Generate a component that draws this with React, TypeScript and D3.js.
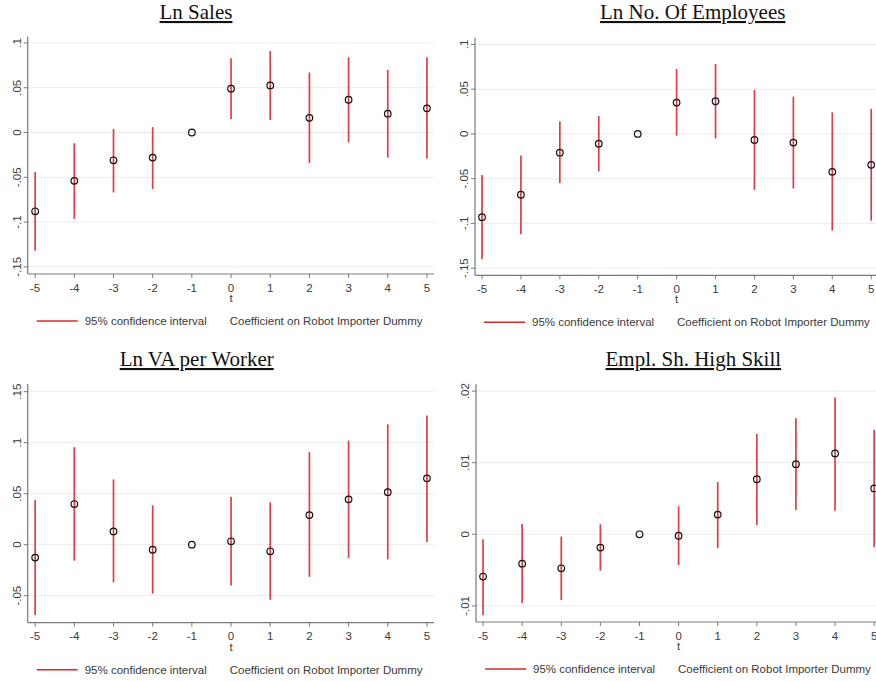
import React from 'react';
import * as d3 from 'd3';

// event time
const periods = [-5, -4, -3, -2, -1, 0, 1, 2, 3, 4, 5];

// Ln Sales
const salesCoef = [-0.088, -0.054, -0.031, -0.028, 0, 0.049, 0.0526, 0.0164, 0.0366, 0.021, 0.027];
const salesLo = [-0.132, -0.0966, -0.067, -0.063, 0, 0.015, 0.014, -0.034, -0.011, -0.028, -0.029];
const salesHi = [-0.044, -0.012, 0.004, 0.006, 0, 0.083, 0.091, 0.067, 0.084, 0.07, 0.084];
const salesTicks = [-0.15, -0.1, -0.05, 0, 0.05, 0.1];
const salesTickLabels = ['-.15', '-.1', '-.05', '0', '.05', '.1'];

// Ln No. Of Employees
const empCoef = [-0.093, -0.068, -0.021, -0.011, 0, 0.035, 0.0365, -0.0067, -0.0097, -0.0424, -0.0346];
const empLo = [-0.14, -0.112, -0.055, -0.042, 0, -0.002, -0.005, -0.0625, -0.061, -0.108, -0.097];
const empHi = [-0.046, -0.024, 0.014, 0.02, 0, 0.0725, 0.078, 0.049, 0.0417, 0.024, 0.028];
const empTicks = [-0.15, -0.1, -0.05, 0, 0.05, 0.1];
const empTickLabels = ['-.15', '-.1', '-.05', '0', '.05', '.1'];

// Ln VA per Worker
const vaCoef = [-0.0127, 0.0398, 0.013, -0.005, 0, 0.0033, -0.0065, 0.029, 0.0444, 0.0515, 0.065];
const vaLo = [-0.069, -0.0157, -0.037, -0.048, 0, -0.04, -0.054, -0.0316, -0.013, -0.0144, 0.0026];
const vaHi = [0.0437, 0.0956, 0.064, 0.0385, 0, 0.047, 0.0414, 0.0907, 0.102, 0.118, 0.1265];
const vaTicks = [-0.05, 0, 0.05, 0.1, 0.15];
const vaTickLabels = ['-.05', '0', '.05', '.1', '.15'];

// Empl. Sh. High Skill
const skillCoef = [-0.0059, -0.0041, -0.00475, -0.00186, 0, -0.0002, 0.00275, 0.0077, 0.0098, 0.0113, 0.0064];
const skillLo = [-0.0113, -0.0096, -0.0092, -0.0051, 0, -0.0043, -0.0019, 0.0013, 0.0034, 0.0033, -0.0018];
const skillHi = [-0.0007, 0.00144, -0.0003, 0.0014, 0, 0.0039, 0.0073, 0.014, 0.0162, 0.0191, 0.0146];
const skillTicks = [-0.01, 0, 0.01, 0.02];
const skillTickLabels = ['-.01', '0', '.01', '.02'];

const CI_RED = '#da3f49';
const AXIS = '#7a7a7a';
const GRID = '#ececec';
const TXT = '#3a3a3a';
const SANS = 'Liberation Sans, Arial, sans-serif';

type PanelProps = {
  title: string;
  titleX: number;
  titleY: number;
  coef: number[];
  lo: number[];
  hi: number[];
  ticks: number[];
  tickLabels: string[];
  x0: number;
  x1: number;
  xDom: [number, number];
  y0: number;
  y1: number;
  yDom: [number, number];
};

function Panel(p: PanelProps) {
  const x = d3.scaleLinear().domain(p.xDom).range([p.x0, p.x1]);
  const y = d3.scaleLinear().domain(p.yDom).range([p.y0, p.y1]);
  const [left] = x.range();
  const right = Math.min(x.range()[1], 876);
  const bottom = p.y0;
  const top = p.y1;

  return (
    <g>
      <text
        x={p.titleX}
        y={p.titleY}
        textAnchor="middle"
        fontFamily="Liberation Serif, Times New Roman, serif"
        fontSize={21}
        fill="#111"
        style={{ textDecoration: 'underline' }}
      >
        {p.title}
      </text>

      {/* grid */}
      {p.ticks.map((t) => (
        <line key={'g' + t} x1={left} x2={right} y1={y(t)} y2={y(t)} stroke={GRID} strokeWidth={1} />
      ))}

      {/* axes */}
      <line x1={left} x2={left} y1={top} y2={bottom} stroke={AXIS} strokeWidth={1.2} />
      <line x1={left} x2={right} y1={bottom} y2={bottom} stroke={AXIS} strokeWidth={1.2} />

      {p.ticks.map((t, i) => (
        <g key={'yt' + t}>
          <line x1={left - 4} x2={left} y1={y(t)} y2={y(t)} stroke={AXIS} />
          <text
            transform={`translate(${left - 7},${y(t)}) rotate(-90)`}
            textAnchor="middle"
            fontFamily={SANS}
            fontSize={11.5}
            fill={TXT}
          >
            {p.tickLabels[i]}
          </text>
        </g>
      ))}

      {periods.map((t) => (
        <g key={'xt' + t}>
          <line x1={x(t)} x2={x(t)} y1={bottom} y2={bottom + 4} stroke={AXIS} />
          <text x={x(t)} y={bottom + 17.5} textAnchor="middle" fontFamily={SANS} fontSize={11.5} fill={TXT}>
            {t}
          </text>
        </g>
      ))}
      <text x={x(0)} y={bottom + 28} textAnchor="middle" fontFamily={SANS} fontSize={11.5} fill={TXT}>
        t
      </text>

      {/* confidence intervals */}
      {periods.map((t, i) =>
        p.hi[i] !== p.lo[i] ? (
          <line key={'ci' + t} x1={x(t)} x2={x(t)} y1={y(p.lo[i])} y2={y(p.hi[i])} stroke={CI_RED} strokeWidth={1.7} />
        ) : null
      )}

      {/* point estimates */}
      {periods.map((t, i) => (
        <circle key={'pt' + t} cx={x(t)} cy={y(p.coef[i])} r={3.3} fill="none" stroke="#111" strokeWidth={1.2} />
      ))}

      {/* legend */}
      <line x1={left + 9} x2={left + 50} y1={bottom + 47} y2={bottom + 47} stroke="#d42a2a" strokeWidth={1.5} />
      <text x={left + 57} y={bottom + 51} fontFamily={SANS} fontSize={11.5} fill={TXT}>
        95% confidence interval
      </text>
      <text x={left + 202} y={bottom + 51} fontFamily={SANS} fontSize={11.5} fill={TXT}>
        Coefficient on Robot Importer Dummy
      </text>
    </g>
  );
}

export default function App() {
  return (
    <svg
      width={876}
      height={681}
      style={{ position: 'absolute', left: 0, top: 0, background: '#fff' }}
    >
      <rect width={876} height={681} fill="#fff" />
      <Panel
        title="Ln Sales"
        titleX={196}
        titleY={19}
        coef={salesCoef}
        lo={salesLo}
        hi={salesHi}
        ticks={salesTicks}
        tickLabels={salesTickLabels}
        x0={27.7}
        x1={434}
        xDom={[-5.19, 5.18]}
        y0={274}
        y1={36.7}
        yDom={[-0.158, 0.107]}
      />
      <Panel
        title="Ln No. Of Employees"
        titleX={692.7}
        titleY={19}
        coef={empCoef}
        lo={empLo}
        hi={empHi}
        ticks={empTicks}
        tickLabels={empTickLabels}
        x0={475}
        x1={879}
        xDom={[-5.18, 5.2]}
        y0={275.3}
        y1={37.7}
        yDom={[-0.158, 0.1075]}
      />
      <Panel
        title="Ln VA per Worker"
        titleX={196.7}
        titleY={366}
        coef={vaCoef}
        lo={vaLo}
        hi={vaHi}
        ticks={vaTicks}
        tickLabels={vaTickLabels}
        x0={27.7}
        x1={434}
        xDom={[-5.19, 5.18]}
        y0={622.7}
        y1={384}
        yDom={[-0.0765, 0.1575]}
      />
      <Panel
        title="Empl. Sh. High Skill"
        titleX={693.3}
        titleY={366}
        coef={skillCoef}
        lo={skillLo}
        hi={skillHi}
        ticks={skillTicks}
        tickLabels={skillTickLabels}
        x0={476}
        x1={882}
        xDom={[-5.18, 5.2]}
        y0={622}
        y1={384.3}
        yDom={[-0.01225, 0.02095]}
      />
    </svg>
  );
}
